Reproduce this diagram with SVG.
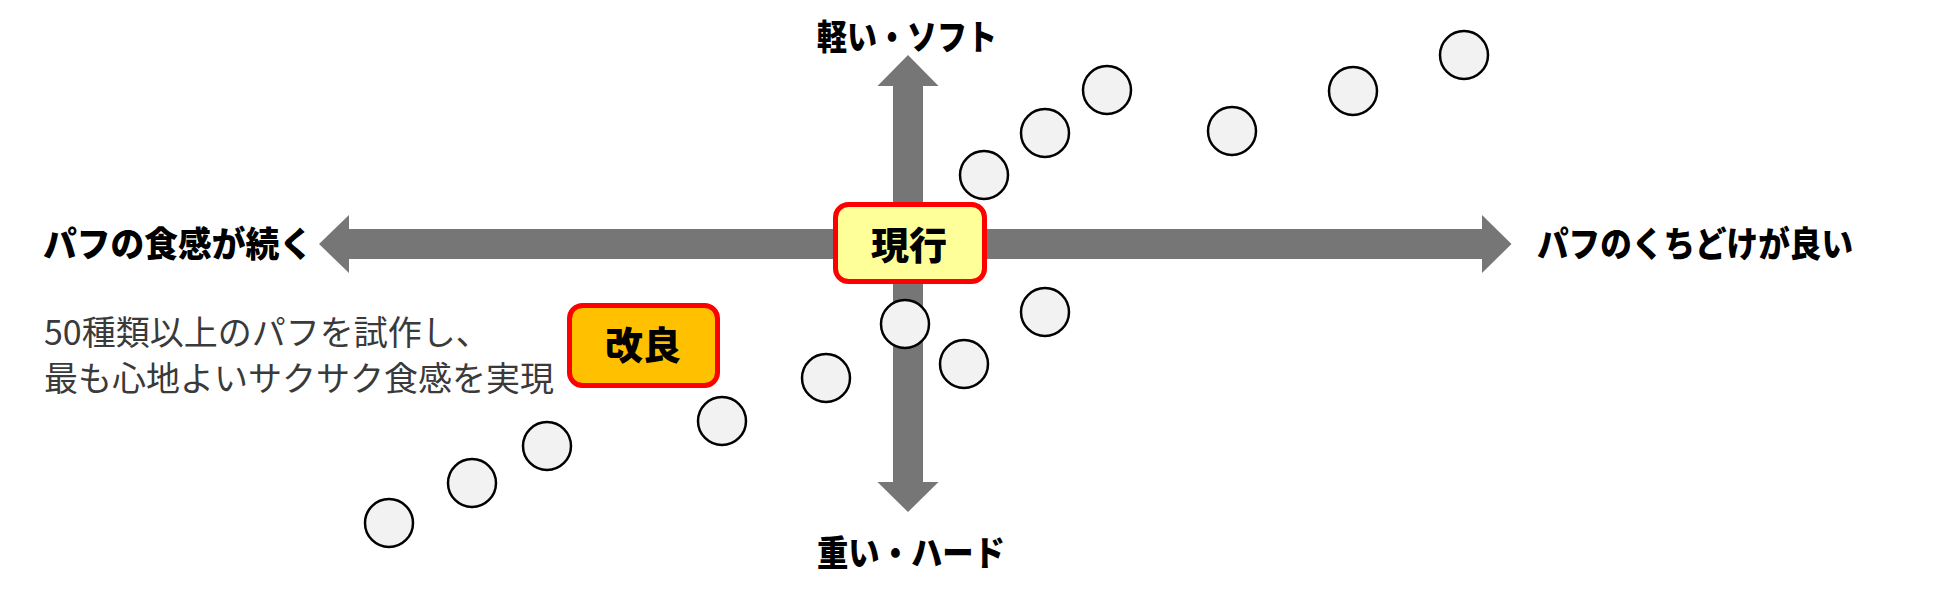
<svg xmlns="http://www.w3.org/2000/svg" width="1950" height="599" viewBox="0 0 1950 599">
<style>
.axis{fill:#767676}
.pt{fill:#f2f2f2;stroke:#000;stroke-width:2.5}
.lbl{font-family:"Noto Sans CJK JP","Noto Sans",sans-serif;font-weight:900;font-size:35px;fill:#000}
.box{stroke:#ff0000;stroke-width:5}
.boxt{font-family:"Noto Sans CJK JP","Noto Sans",sans-serif;font-weight:900;font-size:38px;fill:#000;text-anchor:middle}
.note{font-family:"Noto Sans CJK JP","Noto Sans",sans-serif;font-weight:400;font-size:34px;fill:#3a3a3a}
</style>
<rect width="1950" height="599" fill="#fff"/>
<g id="connectors">
<polygon class="axis" points="319,244 349,215 349,229 1482,229 1482,215 1511.5,244 1482,273 1482,259 349,259 349,273"/>
<polygon class="axis" points="908,55 877.5,86 893,86 893,482 877.5,482 908,512 938.5,482 923,482 923,86 938.5,86"/>
</g>
<g id="axis-labels">
<text id="label-top" class="lbl" x="907" y="50" text-anchor="middle" textLength="180" lengthAdjust="spacingAndGlyphs">軽い・ソフト</text>
<text id="label-bottom" class="lbl" x="911" y="566" text-anchor="middle" textLength="188" lengthAdjust="spacingAndGlyphs">重い・ハード</text>
<text id="label-left" class="lbl" x="43" y="257" textLength="270" lengthAdjust="spacingAndGlyphs">パフの食感が続く</text>
<text id="label-right" class="lbl" x="1537" y="257" textLength="316" lengthAdjust="spacingAndGlyphs">パフのくちどけが良い</text>
</g>
<g id="points">
<circle class="pt" cx="389" cy="523" r="24"/>
<circle class="pt" cx="472" cy="483" r="24"/>
<circle class="pt" cx="547" cy="446" r="24"/>
<circle class="pt" cx="722" cy="421" r="24"/>
<circle class="pt" cx="826" cy="378" r="24"/>
<circle class="pt" cx="905" cy="324" r="24"/>
<circle class="pt" cx="964" cy="364" r="24"/>
<circle class="pt" cx="1045" cy="312" r="24"/>
<circle class="pt" cx="984" cy="175" r="24"/>
<circle class="pt" cx="1045" cy="133" r="24"/>
<circle class="pt" cx="1107" cy="90" r="24"/>
<circle class="pt" cx="1232" cy="131" r="24"/>
<circle class="pt" cx="1353" cy="91" r="24"/>
<circle class="pt" cx="1464" cy="55" r="24"/>
</g>
<g id="node-current">
<rect class="box" x="835.5" y="204.5" width="149" height="77" rx="13" fill="#ffff99"/>
<text class="boxt" x="909" y="259">現行</text>
</g>
<g id="node-improved">
<rect class="box" x="569.5" y="305.5" width="148" height="80" rx="13" fill="#ffc000"/>
<text class="boxt" x="643" y="359">改良</text>
</g>
<g id="note">
<text class="note" x="44" y="345">50種類以上のパフを試作し、</text>
<text class="note" x="44" y="391">最も心地よいサクサク食感を実現</text>
</g>
</svg>
